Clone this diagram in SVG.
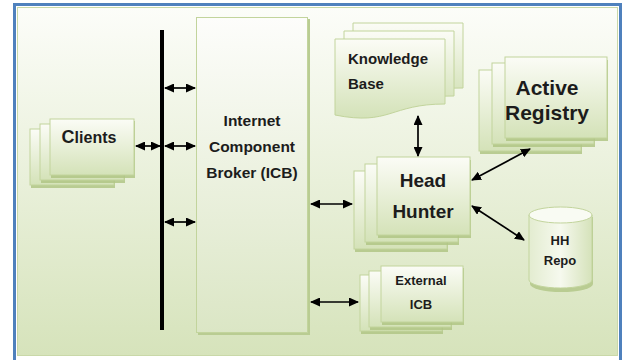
<svg xmlns="http://www.w3.org/2000/svg" width="622" height="360" viewBox="0 0 622 360">
<defs>
  <linearGradient id="panelG" x1="0" y1="0" x2="0" y2="1">
    <stop offset="0" stop-color="#fcfdf9"/>
    <stop offset="1" stop-color="#d6e3bb"/>
  </linearGradient>
  <linearGradient id="boxG" x1="0" y1="0" x2="0" y2="1">
    <stop offset="0" stop-color="#fbfcf6"/>
    <stop offset="1" stop-color="#d4e2b8"/>
  </linearGradient>
  <linearGradient id="icbG" x1="0" y1="0" x2="0" y2="1">
    <stop offset="0" stop-color="#fdfdfb"/>
    <stop offset="1" stop-color="#dbe6c5"/>
  </linearGradient>
  <linearGradient id="cylG" x1="0" y1="0" x2="1" y2="0">
    <stop offset="0" stop-color="#e3ecd0"/>
    <stop offset="0.5" stop-color="#f6f9ee"/>
    <stop offset="1" stop-color="#d5e2ba"/>
  </linearGradient>
  <marker id="ah" markerWidth="10" markerHeight="9" refX="9" refY="4.5" orient="auto-start-reverse" markerUnits="userSpaceOnUse">
    <path d="M0,0 L10,4.5 L0,9 Z" fill="#000"/>
  </marker>
</defs>
<style>
  .box { fill: url(#boxG); stroke: #c2d49c; stroke-width: 1; }
  .sh { fill: #b0c585; opacity: 0.85; }
  .t { font-family: "Liberation Sans", Arial, sans-serif; font-weight: bold; fill: #1c1c1c; }
  .c { stroke: #000; stroke-width: 1.7; fill: none; marker-start: url(#ah); marker-end: url(#ah); }
</style>

<rect x="0" y="0" width="622" height="360" fill="#ffffff"/>
<rect x="14.5" y="4.5" width="606" height="400" fill="none" stroke="#4f81bd" stroke-width="3"/>
<rect x="17.5" y="7.5" width="600" height="348" fill="url(#panelG)" stroke="#c9d8a8" stroke-width="1"/>

<!-- bus -->
<g id="bus">
  <line x1="162" y1="30" x2="162" y2="330" stroke="#000" stroke-width="4"/>
</g>

<!-- Clients -->
<g id="clients">
  <rect class="sh" x="31" y="131" width="84" height="57"/>
  <rect class="box" x="30" y="129" width="84" height="56"/>
  <rect class="sh" x="41" y="126" width="84" height="57"/>
  <rect class="box" x="40" y="124" width="84" height="56"/>
  <rect class="sh" x="51" y="121" width="84" height="57"/>
  <rect class="box" x="50" y="119" width="84" height="56"/>
  <text class="t" x="89" y="143" text-anchor="middle" font-size="16"><tspan font-size="18">C</tspan>lients</text>
</g>

<!-- ICB -->
<g id="icb">
  <rect x="198" y="19" width="112" height="316" fill="#b9cc92"/>
  <rect x="196.5" y="17.5" width="111" height="315" fill="url(#icbG)" stroke="#c2d49c"/>
  <text class="t" x="252" y="126" text-anchor="middle" font-size="15.5">Internet</text>
  <text class="t" x="252" y="152" text-anchor="middle" font-size="15.5">Component</text>
  <text class="t" x="252" y="178" text-anchor="middle" font-size="15.5">Broker (ICB)</text>
</g>

<!-- Knowledge Base -->
<g id="knowledge-base">
  <path class="box" d="M353,23 H463 V88 C408,88 408,102 353,95 Z"/>
  <path class="box" d="M344,31 H454 V96 C399,96 399,110 344,103 Z"/>
  <path class="box" d="M335,39 H445 V104 C390,104 390,126 335,115 Z"/>
  <text class="t" x="348" y="64" font-size="15">Knowledge</text>
  <text class="t" x="348" y="89" font-size="15">Base</text>
</g>

<!-- Active Registry -->
<g id="active-registry">
  <rect class="sh" x="480" y="73" width="102" height="81"/>
  <rect class="box" x="479" y="70" width="102" height="81"/>
  <rect class="sh" x="493" y="66" width="102" height="81"/>
  <rect class="box" x="492" y="63" width="102" height="81"/>
  <rect class="sh" x="506" y="60" width="102" height="81"/>
  <rect class="box" x="505" y="57" width="102" height="81"/>
  <text class="t" x="547" y="95" text-anchor="middle" font-size="21">Active</text>
  <text class="t" x="547" y="120" text-anchor="middle" font-size="21">Registry</text>
</g>

<!-- Head Hunter -->
<g id="head-hunter">
  <rect class="sh" x="355" y="174" width="93" height="78"/>
  <rect class="box" x="354" y="171" width="93" height="78"/>
  <rect class="sh" x="366" y="167" width="93" height="78"/>
  <rect class="box" x="365" y="164" width="93" height="78"/>
  <rect class="sh" x="378" y="160" width="93" height="78"/>
  <rect class="box" x="377" y="157" width="93" height="78"/>
  <text class="t" x="423" y="187" text-anchor="middle" font-size="19">Head</text>
  <text class="t" x="423" y="218" text-anchor="middle" font-size="19">Hunter</text>
</g>

<!-- HH Repo -->
<g id="hh-repo">
  <path d="M529,215 V282 A31.5,8 0 0 0 592,282 V215" fill="#b9cc92" transform="translate(1,2)"/>
  <path d="M529,215 V280 A31.5,8 0 0 0 592,280 V215 Z" fill="url(#cylG)" stroke="#c2d49c"/>
  <ellipse cx="560.5" cy="215" rx="31.5" ry="8" fill="#f9fbf3" stroke="#c2d49c"/>
  <text class="t" x="560" y="245" text-anchor="middle" font-size="13">HH</text>
  <text class="t" x="560" y="265" text-anchor="middle" font-size="13">Repo</text>
</g>

<!-- External ICB -->
<g id="external-icb">
  <rect class="sh" x="361" y="277" width="82" height="57"/>
  <rect class="box" x="360" y="275" width="82" height="56"/>
  <rect class="sh" x="370" y="273" width="82" height="57"/>
  <rect class="box" x="369" y="271" width="82" height="56"/>
  <rect class="sh" x="382" y="268" width="82" height="57"/>
  <rect class="box" x="381" y="266" width="82" height="56"/>
  <text class="t" x="421" y="285" text-anchor="middle" font-size="13">External</text>
  <text class="t" x="421" y="309" text-anchor="middle" font-size="13">ICB</text>
</g>

<!-- connectors -->
<g id="connectors">
  <line class="c" x1="136" y1="146" x2="160" y2="146"/>
  <line class="c" x1="165" y1="88" x2="195" y2="88"/>
  <line class="c" x1="165" y1="146" x2="195" y2="146"/>
  <line class="c" x1="165" y1="222" x2="195" y2="222"/>
  <line class="c" x1="311" y1="204" x2="352" y2="204"/>
  <line class="c" x1="311" y1="302" x2="358" y2="302"/>
  <line class="c" x1="418" y1="116" x2="418" y2="156"/>
  <line class="c" x1="472" y1="180" x2="530" y2="149"/>
  <line class="c" x1="472" y1="206" x2="524" y2="240"/>
</g>
</svg>
